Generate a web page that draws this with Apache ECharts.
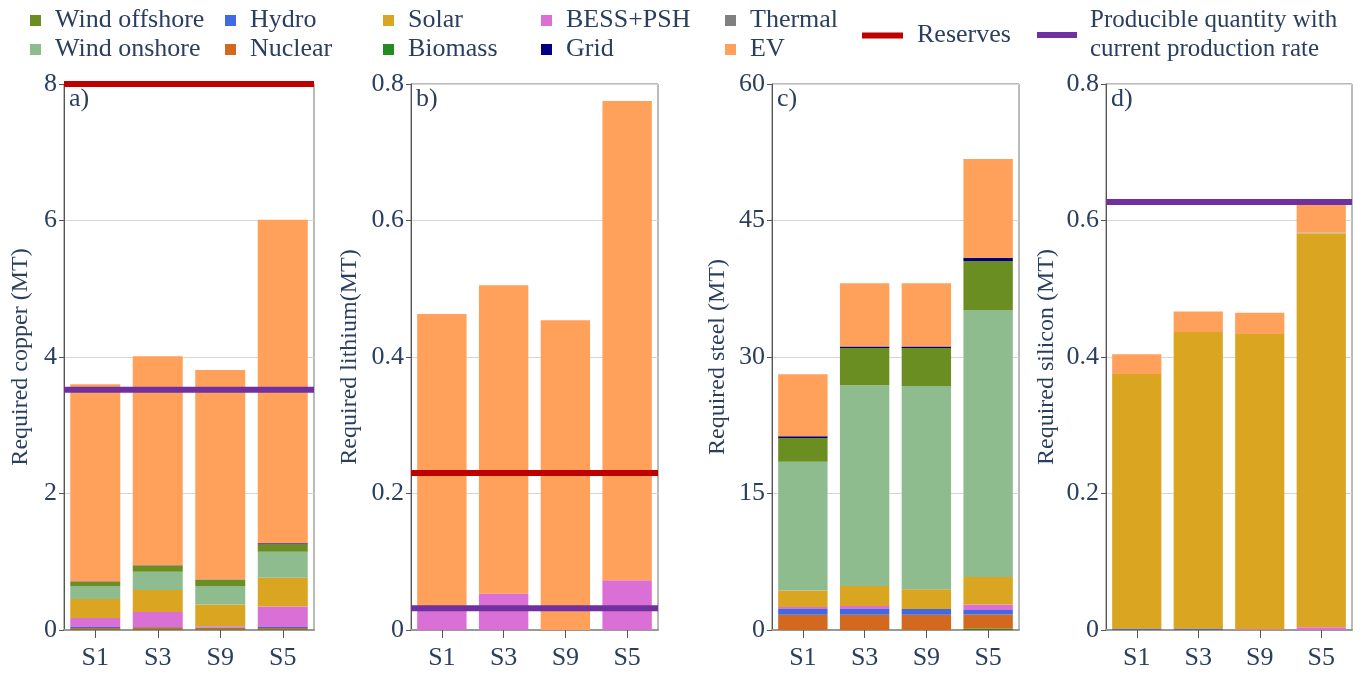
<!DOCTYPE html>
<html><head><meta charset="utf-8">
<script src="https://cdn.jsdelivr.net/npm/echarts@6/dist/echarts.min.js"></script>
<style>html,body{margin:0;padding:0;background:#fff}#c{width:1370px;height:676px}</style>
</head><body><div id="c"></div>
<script>
// ---------- DATA ----------
const scenarios = ['S1', 'S3', 'S9', 'S5'];
const techs = ['Biomass', 'Nuclear', 'Hydro', 'BESS+PSH', 'Thermal', 'Solar', 'Wind onshore', 'Wind offshore', 'Grid', 'EV'];

// Required copper (MT)
const copperBiomass      = [0.01, 0.01, 0.01, 0.01];
const copperNuclear      = [0.02, 0.03, 0.02, 0.02];
const copperHydro        = [0.015, 0.005, 0.005, 0.015];
const copperBESS         = [0.13, 0.22, 0.02, 0.30];
const copperThermal      = [0, 0, 0, 0];
const copperSolar        = [0.28, 0.32, 0.32, 0.42];
const copperWindOnshore  = [0.19, 0.27, 0.27, 0.38];
const copperWindOffshore = [0.06, 0.09, 0.09, 0.11];
const copperGrid         = [0.005, 0.005, 0.005, 0.015];
const copperEV           = [2.89, 3.06, 3.07, 4.74];

// Required lithium (MT)
const lithiumBiomass      = [0, 0, 0, 0];
const lithiumNuclear      = [0, 0, 0, 0];
const lithiumHydro        = [0, 0, 0, 0];
const lithiumBESS         = [0.028, 0.053, 0, 0.073];
const lithiumThermal      = [0, 0, 0, 0];
const lithiumSolar        = [0, 0, 0, 0];
const lithiumWindOnshore  = [0, 0, 0, 0];
const lithiumWindOffshore = [0, 0, 0, 0];
const lithiumGrid         = [0, 0, 0, 0];
const lithiumEV           = [0.435, 0.452, 0.454, 0.702];

// Required steel (MT)
const steelBiomass      = [0, 0, 0, 0.15];
const steelNuclear      = [1.68, 1.68, 1.68, 1.54];
const steelHydro        = [0.62, 0.62, 0.62, 0.51];
const steelBESS         = [0.22, 0.33, 0, 0.59];
const steelThermal      = [0, 0, 0, 0];
const steelSolar        = [1.83, 2.2, 2.17, 3.03];
const steelWindOnshore  = [14.15, 22.07, 22.33, 29.34];
const steelWindOffshore = [2.6, 4.1, 4.2, 5.39];
const steelGrid         = [0.2, 0.15, 0.15, 0.35];
const steelEV           = [6.8, 6.95, 6.95, 10.86];

// Required silicon (MT)
const siliconBiomass      = [0, 0, 0, 0];
const siliconNuclear      = [0, 0, 0, 0];
const siliconHydro        = [0.0015, 0.0015, 0, 0];
const siliconBESS         = [0, 0, 0.001, 0.004];
const siliconThermal      = [0, 0, 0, 0];
const siliconSolar        = [0.3735, 0.435, 0.4327, 0.577];
const siliconWindOnshore  = [0, 0, 0, 0.001];
const siliconWindOffshore = [0, 0, 0, 0];
const siliconGrid         = [0, 0, 0, 0];
const siliconEV           = [0.029, 0.030, 0.031, 0.041];

// Horizontal reference lines (MT)
const reserves   = [8, 0.23, null, null];
const producible = [3.52, 0.032, null, 0.627];

// Axis ticks
const yMax      = [8, 0.8, 60, 0.8];
const yInterval = [2, 0.2, 15, 0.2];
const yTitles   = ['Required copper (MT)', 'Required lithium(MT)', 'Required steel (MT)', 'Required silicon (MT)'];
const panelTags = ['a)', 'b)', 'c)', 'd)'];

// ---------- BUILD ----------
const panelData = [
  [copperBiomass, copperNuclear, copperHydro, copperBESS, copperThermal, copperSolar, copperWindOnshore, copperWindOffshore, copperGrid, copperEV],
  [lithiumBiomass, lithiumNuclear, lithiumHydro, lithiumBESS, lithiumThermal, lithiumSolar, lithiumWindOnshore, lithiumWindOffshore, lithiumGrid, lithiumEV],
  [steelBiomass, steelNuclear, steelHydro, steelBESS, steelThermal, steelSolar, steelWindOnshore, steelWindOffshore, steelGrid, steelEV],
  [siliconBiomass, siliconNuclear, siliconHydro, siliconBESS, siliconThermal, siliconSolar, siliconWindOnshore, siliconWindOffshore, siliconGrid, siliconEV]
];

const colors = {
  'Biomass': '#228B22', 'Nuclear': '#D2691E', 'Hydro': '#4169E1', 'BESS+PSH': '#DA70D6',
  'Thermal': '#808080', 'Solar': '#DAA520', 'Wind onshore': '#8FBC8F', 'Wind offshore': '#6B8E23',
  'Grid': '#000080', 'EV': '#FFA15A'
};
const RES_COLOR = '#C00000';
const PROD_COLOR = '#7030A0';
const FONT = 'Liberation Serif';
const TXT = '#2a3f5f';
const TICK_FS = 26, TITLE_FS = 24, LEG_FS = 26;

const grids = [
  { left: 64, top: 84, width: 250, height: 546 },
  { left: 411, top: 84, width: 247, height: 546 },
  { left: 772, top: 84, width: 247, height: 546 },
  { left: 1106, top: 84, width: 246, height: 546 }
];
const nameGaps = [31, 49, 42, 47];

const xAxis = [], yAxis = [], series = [], graphic = [];
grids.forEach((g, i) => {
  g.show = true; g.borderColor = '#777'; g.borderWidth = 1; g.containLabel = false;
  xAxis.push({
    type: 'category', gridIndex: i, data: scenarios,
    axisLine: { show: true, lineStyle: { color: '#999', width: 2 } },
    axisTick: { show: true, alignWithLabel: true, length: 8, lineStyle: { color: '#555' } },
    axisLabel: { fontFamily: FONT, fontSize: TICK_FS, color: TXT, margin: 15 },
    splitLine: { show: false }
  });
  xAxis.push({ type: 'value', gridIndex: i, min: 0, max: 1, show: false });
  yAxis.push({
    type: 'value', gridIndex: i, min: 0, max: yMax[i], interval: yInterval[i],
    name: yTitles[i], nameLocation: 'middle', nameGap: nameGaps[i],
    nameTextStyle: { fontFamily: FONT, fontSize: TITLE_FS, color: TXT },
    axisLine: { show: true, lineStyle: { color: '#555', width: 1 } },
    axisTick: { show: true, length: 5, lineStyle: { color: '#555' } },
    axisLabel: { fontFamily: FONT, fontSize: TICK_FS, color: TXT, margin: 7 },
    splitLine: { show: true, lineStyle: { color: '#d6d6d6', width: 1 } }
  });
  techs.forEach((t, k) => {
    series.push({
      type: 'bar', name: t, xAxisIndex: 2 * i, yAxisIndex: i, stack: 'st' + i,
      data: panelData[i][k], barWidth: '80%',
      itemStyle: { color: colors[t] }, emphasis: { disabled: true }
    });
  });
  if (reserves[i] !== null) {
    series.push({
      type: 'line', name: 'Reserves', xAxisIndex: 2 * i + 1, yAxisIndex: i,
      data: [[0, reserves[i]], [1, reserves[i]]], symbol: 'none', clip: false, z: 10,
      lineStyle: { color: RES_COLOR, width: 6 }, itemStyle: { color: RES_COLOR }
    });
  }
  if (producible[i] !== null) {
    series.push({
      type: 'line', name: 'Producible', xAxisIndex: 2 * i + 1, yAxisIndex: i,
      data: [[0, producible[i]], [1, producible[i]]], symbol: 'none', clip: false, z: 10,
      lineStyle: { color: PROD_COLOR, width: 6 }, itemStyle: { color: PROD_COLOR }
    });
  }
  graphic.push({
    type: 'text', left: g.left + 5, top: 86, z: 20,
    style: { text: panelTags[i], fontFamily: FONT, fontSize: LEG_FS, fill: TXT }
  });
});

const legendText = { fontFamily: FONT, fontSize: LEG_FS, color: TXT, padding: [0, 0, 0, 9], lineHeight: 29 };
const legendCols = [
  { left: 30, data: ['Wind offshore', 'Wind onshore'] },
  { left: 225, data: ['Hydro', 'Nuclear'] },
  { left: 383, data: ['Solar', 'Biomass'] },
  { left: 541, data: ['BESS+PSH', 'Grid'] },
  { left: 725, data: ['Thermal', 'EV'] }
];
const legend = legendCols.map(c => ({
  orient: 'vertical', left: c.left, top: 6, itemGap: 0, padding: 0,
  itemWidth: 11, itemHeight: 11, icon: 'rect', selectedMode: false,
  data: c.data, textStyle: legendText
}));
legend.push({
  orient: 'vertical', left: 862, top: 21, padding: 0, itemWidth: 41, itemHeight: 6,
  icon: 'rect', selectedMode: false, data: ['Reserves'], textStyle: legendText
});
legend.push({
  orient: 'vertical', left: 1037, top: 6, padding: 0, itemWidth: 40, itemHeight: 6,
  icon: 'rect', selectedMode: false, data: ['Producible'],
  formatter: () => 'Producible quantity with\ncurrent production rate',
  textStyle: { fontFamily: FONT, fontSize: 25, color: TXT, padding: [0, 0, 0, 8], lineHeight: 29 }
});

const chart = echarts.init(document.getElementById('c'), null, { renderer: 'canvas' });
chart.setOption({
  animation: false,
  backgroundColor: '#fff',
  grid: grids, xAxis, yAxis, series, legend, graphic
});
</script>
</body></html>
